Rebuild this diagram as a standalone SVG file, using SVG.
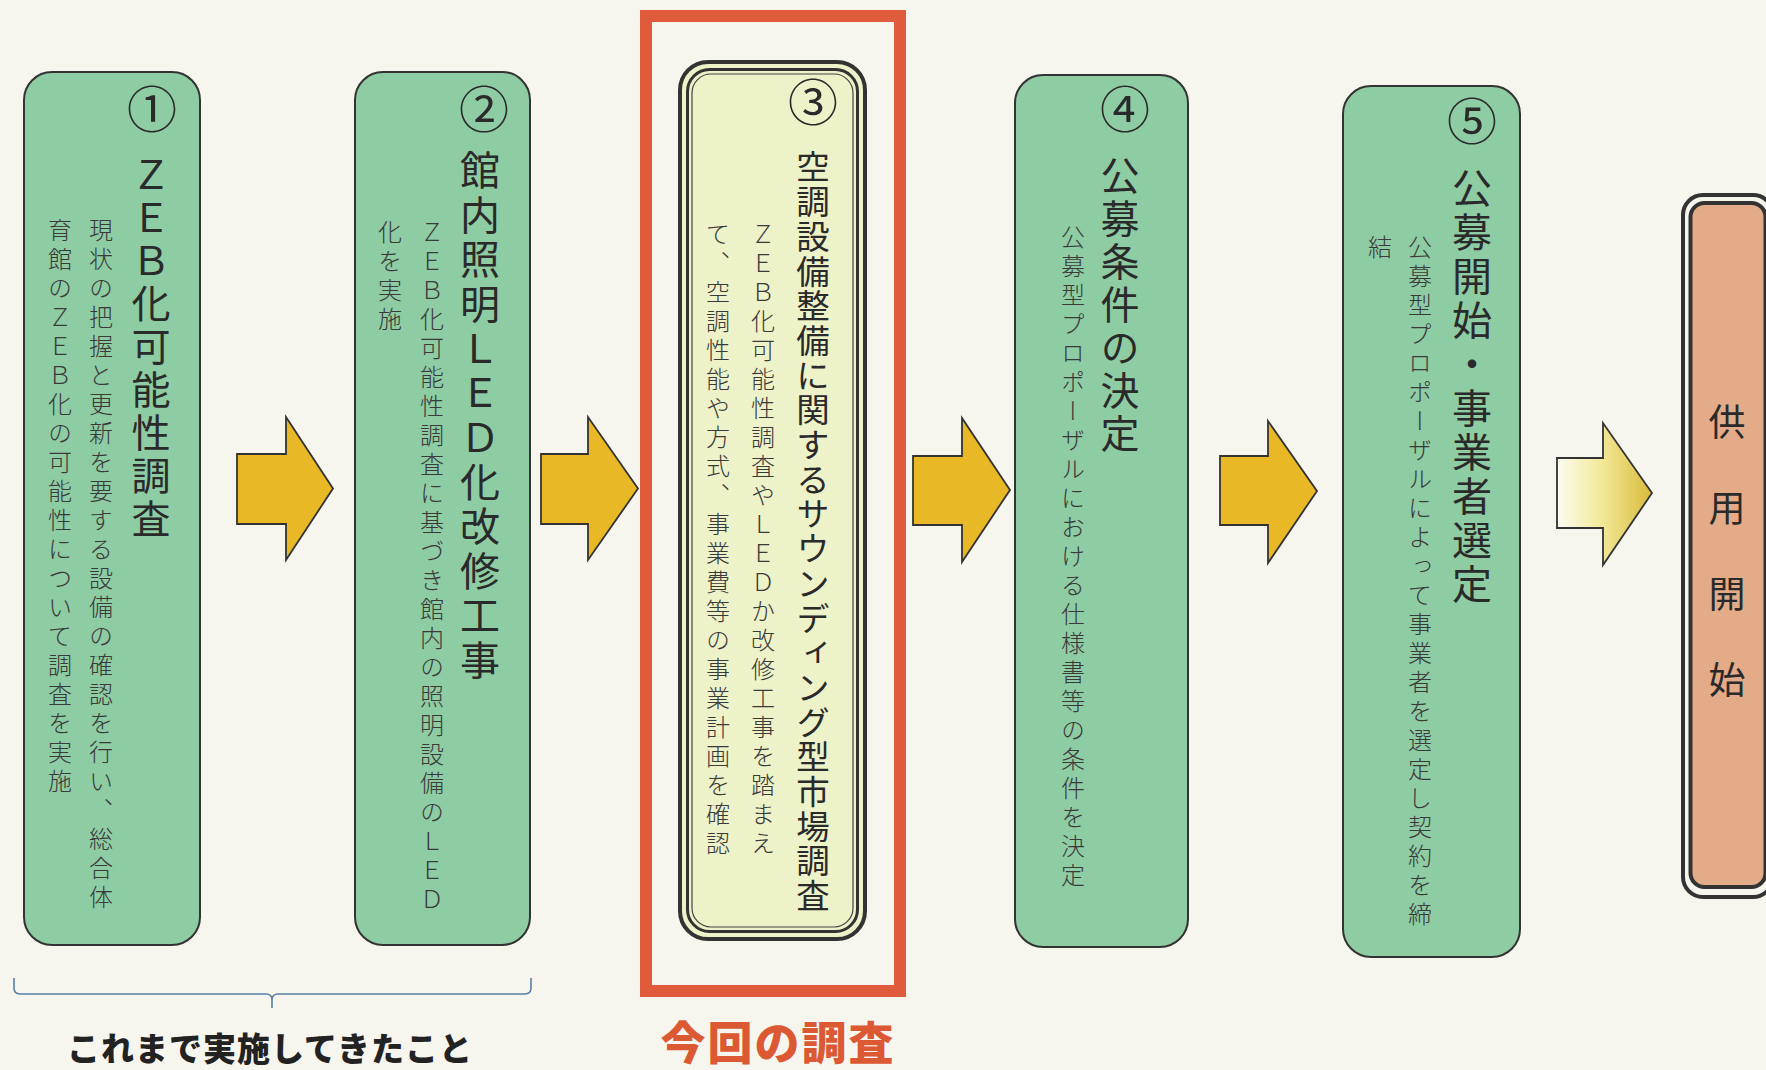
<svg xmlns="http://www.w3.org/2000/svg" width="1766" height="1070" viewBox="0 0 1766 1070">
<defs>
<linearGradient id="gArrow5" x1="0" y1="0" x2="1" y2="0">
<stop offset="0" stop-color="#fdfcf2"/>
<stop offset="0.45" stop-color="#f3ea9c"/>
<stop offset="1" stop-color="#d9bb3a"/>
</linearGradient>
<style>
.bg{fill:#f6f5ee}
.box{fill:#8ecca4;stroke:#333;stroke-width:2}
.arrow{fill:#e8b827;stroke:#333;stroke-width:1.8;stroke-linejoin:miter}
.v{writing-mode:vertical-rl;font-family:"Noto Sans CJK JP","Noto Sans CJK SC",sans-serif}
.title{fill:#2a2a2a;font-weight:400}
.desc{fill:#3a3a3a;font-size:24px;letter-spacing:5px;font-weight:300}
.num{font-family:"Noto Sans CJK JP","Noto Sans CJK SC",sans-serif;font-size:50px;fill:#2a2a2a;text-anchor:middle}
.lbl{font-family:"Noto Sans CJK JP","Noto Sans CJK SC",sans-serif;text-anchor:middle;font-weight:900}
</style>
</defs>
<rect class="bg" x="0" y="0" width="1766" height="1070"/>

<g id="connectors">
<path class="arrow" d="M237,454 L286,454 L286,417 L333,488.5 L286,560 L286,524 L237,524 Z"/>
<path class="arrow" d="M541,454 L588,454 L588,417 L638,488.5 L588,560 L588,524 L541,524 Z"/>
<path class="arrow" d="M913,456 L962,456 L962,418 L1010,490 L962,562 L962,525 L913,525 Z"/>
<path class="arrow" d="M1220,456 L1268,456 L1268,421 L1317,491 L1268,563 L1268,525 L1220,525 Z"/>
<path d="M1557,458 L1603,458 L1603,423 L1652,493 L1603,565 L1603,528 L1557,528 Z" fill="url(#gArrow5)" stroke="#333" stroke-width="1.8"/>
</g>

<g id="node1">
<rect class="box" x="24" y="72" width="176" height="873" rx="28"/>
<text class="num" x="152" y="128">①</text>
<text class="v title" x="151" y="155" font-size="39" letter-spacing="4">ＺＥＢ化可能性調査</text>
<text class="v desc" x="101" y="218">現状の把握と更新を要する設備の確認を行い、総合体</text>
<text class="v desc" x="60" y="218">育館のＺＥＢ化の可能性について調査を実施</text>
</g>

<g id="node2">
<rect class="box" x="355" y="72" width="175" height="873" rx="28"/>
<text class="num" x="484" y="128">②</text>
<text class="v title" x="480" y="150" font-size="40" letter-spacing="4.5">館内照明ＬＥＤ化改修工事</text>
<text class="v desc" x="432" y="220">ＺＥＢ化可能性調査に基づき館内の照明設備のＬＥＤ</text>
<text class="v desc" x="390" y="220">化を実施</text>
</g>

<g id="node3">
<rect x="646" y="16" width="254" height="975" fill="none" stroke="#e05a3c" stroke-width="12"/>
<rect x="680" y="62" width="185" height="877" rx="28" fill="#eef2c8" stroke="#333" stroke-width="4"/>
<rect x="687.5" y="69.5" width="170" height="862" rx="22" fill="none" stroke="#333" stroke-width="3"/>
<rect x="692" y="74" width="161" height="853" rx="19" fill="none" stroke="#444" stroke-width="1.2"/>
<text class="num" x="813" y="121">③</text>
<text class="v title" x="813" y="150" font-size="33.5" letter-spacing="1.2">空調設備整備に関するサウンディング型市場調査</text>
<text class="v desc" x="763" y="222">ＺＥＢ化可能性調査やＬＥＤか改修工事を踏まえ</text>
<text class="v desc" x="718" y="222">て、空調性能や方式、事業費等の事業計画を確認</text>
</g>

<g id="node4">
<rect class="box" x="1015" y="75" width="173" height="872" rx="28"/>
<text class="num" x="1125" y="128">④</text>
<text class="v title" x="1120" y="156" font-size="39" letter-spacing="4">公募条件の決定</text>
<text class="v desc" x="1073" y="225">公募型プロポーザルにおける仕様書等の条件を決定</text>
</g>

<g id="node5">
<rect class="box" x="1343" y="86" width="177" height="871" rx="28"/>
<text class="num" x="1472" y="140">⑤</text>
<text class="v title" x="1472" y="168" font-size="40" letter-spacing="4">公募開始・事業者選定</text>
<text class="v desc" x="1420" y="235">公募型プロポーザルによって事業者を選定し契約を締</text>
<text class="v desc" x="1380" y="235">結</text>
</g>

<g id="node6">
<rect x="1683" y="195" width="90" height="702" rx="20" fill="#f6f5ee" stroke="#333" stroke-width="4"/>
<rect x="1690.5" y="203" width="75" height="684" rx="14" fill="#e3ab88" stroke="#333" stroke-width="4"/>
<text class="v title" x="1727" y="403" font-size="37" letter-spacing="49">供用開始</text>
</g>

<g id="brace">
<path d="M14,978 L14,988 Q14,994 20,994 L266,994 Q272,994 272,1000 L272,1008 M272,1000 Q272,994 278,994 L525,994 Q531,994 531,988 L531,978" fill="none" stroke="#5b7fa6" stroke-width="1.6"/>
<text class="lbl" x="270" y="1061" font-size="33" fill="#222" letter-spacing="1">これまで実施してきたこと</text>
</g>

<g id="caption">
<text class="lbl" x="778" y="1060" font-size="45" fill="#dc5a33" letter-spacing="2">今回の調査</text>
</g>
</svg>
